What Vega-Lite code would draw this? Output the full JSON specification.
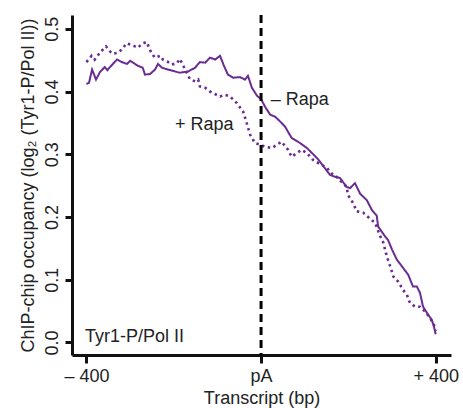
{
  "$schema": "https://vega.github.io/schema/vega-lite/v6.json",
  "width": 379,
  "height": 340,
  "autosize": "none",
  "padding": {"left": 72, "top": 15, "right": 12, "bottom": 53},
  "config": {
    "view": {"stroke": null},
    "font": "Liberation Sans",
    "axis": {"grid": false, "domainColor": "#111", "tickColor": "#111", "labelColor": "#222", "titleColor": "#222", "labelFont": "Liberation Sans", "titleFont": "Liberation Sans", "titleFontWeight": "normal"}
  },
  "datasets": {
    "curves": [
      {"x": -400, "y": 0.412, "c": "minus"},
      {"x": -394, "y": 0.414, "c": "minus"},
      {"x": -387, "y": 0.435, "c": "minus"},
      {"x": -383, "y": 0.428, "c": "minus"},
      {"x": -378, "y": 0.419, "c": "minus"},
      {"x": -369, "y": 0.431, "c": "minus"},
      {"x": -358, "y": 0.439, "c": "minus"},
      {"x": -352, "y": 0.434, "c": "minus"},
      {"x": -346, "y": 0.439, "c": "minus"},
      {"x": -330, "y": 0.451, "c": "minus"},
      {"x": -319, "y": 0.447, "c": "minus"},
      {"x": -307, "y": 0.444, "c": "minus"},
      {"x": -300, "y": 0.449, "c": "minus"},
      {"x": -293, "y": 0.446, "c": "minus"},
      {"x": -282, "y": 0.441, "c": "minus"},
      {"x": -271, "y": 0.438, "c": "minus"},
      {"x": -266, "y": 0.427, "c": "minus"},
      {"x": -254, "y": 0.428, "c": "minus"},
      {"x": -243, "y": 0.435, "c": "minus"},
      {"x": -236, "y": 0.444, "c": "minus"},
      {"x": -227, "y": 0.438, "c": "minus"},
      {"x": -213, "y": 0.435, "c": "minus"},
      {"x": -197, "y": 0.432, "c": "minus"},
      {"x": -186, "y": 0.430, "c": "minus"},
      {"x": -167, "y": 0.432, "c": "minus"},
      {"x": -151, "y": 0.438, "c": "minus"},
      {"x": -140, "y": 0.447, "c": "minus"},
      {"x": -128, "y": 0.446, "c": "minus"},
      {"x": -117, "y": 0.454, "c": "minus"},
      {"x": -105, "y": 0.451, "c": "minus"},
      {"x": -94, "y": 0.457, "c": "minus"},
      {"x": -85, "y": 0.441, "c": "minus"},
      {"x": -76, "y": 0.427, "c": "minus"},
      {"x": -64, "y": 0.422, "c": "minus"},
      {"x": -48, "y": 0.423, "c": "minus"},
      {"x": -37, "y": 0.419, "c": "minus"},
      {"x": -30, "y": 0.425, "c": "minus"},
      {"x": -21, "y": 0.406, "c": "minus"},
      {"x": -9, "y": 0.393, "c": "minus"},
      {"x": 0, "y": 0.388, "c": "minus"},
      {"x": 9, "y": 0.376, "c": "minus"},
      {"x": 21, "y": 0.363, "c": "minus"},
      {"x": 32, "y": 0.360, "c": "minus"},
      {"x": 44, "y": 0.352, "c": "minus"},
      {"x": 55, "y": 0.344, "c": "minus"},
      {"x": 70, "y": 0.326, "c": "minus"},
      {"x": 89, "y": 0.318, "c": "minus"},
      {"x": 105, "y": 0.310, "c": "minus"},
      {"x": 128, "y": 0.294, "c": "minus"},
      {"x": 135, "y": 0.288, "c": "minus"},
      {"x": 158, "y": 0.267, "c": "minus"},
      {"x": 170, "y": 0.264, "c": "minus"},
      {"x": 181, "y": 0.262, "c": "minus"},
      {"x": 196, "y": 0.248, "c": "minus"},
      {"x": 204, "y": 0.246, "c": "minus"},
      {"x": 215, "y": 0.254, "c": "minus"},
      {"x": 227, "y": 0.237, "c": "minus"},
      {"x": 242, "y": 0.227, "c": "minus"},
      {"x": 254, "y": 0.211, "c": "minus"},
      {"x": 265, "y": 0.202, "c": "minus"},
      {"x": 268, "y": 0.185, "c": "minus"},
      {"x": 284, "y": 0.169, "c": "minus"},
      {"x": 291, "y": 0.163, "c": "minus"},
      {"x": 300, "y": 0.148, "c": "minus"},
      {"x": 311, "y": 0.132, "c": "minus"},
      {"x": 323, "y": 0.121, "c": "minus"},
      {"x": 337, "y": 0.108, "c": "minus"},
      {"x": 348, "y": 0.089, "c": "minus"},
      {"x": 357, "y": 0.089, "c": "minus"},
      {"x": 364, "y": 0.079, "c": "minus"},
      {"x": 371, "y": 0.057, "c": "minus"},
      {"x": 380, "y": 0.047, "c": "minus"},
      {"x": 391, "y": 0.036, "c": "minus"},
      {"x": 396, "y": 0.025, "c": "minus"},
      {"x": 400, "y": 0.013, "c": "minus"},
      {"x": -400, "y": 0.447, "c": "plus"},
      {"x": -388, "y": 0.457, "c": "plus"},
      {"x": -381, "y": 0.451, "c": "plus"},
      {"x": -369, "y": 0.462, "c": "plus"},
      {"x": -355, "y": 0.472, "c": "plus"},
      {"x": -346, "y": 0.464, "c": "plus"},
      {"x": -339, "y": 0.460, "c": "plus"},
      {"x": -328, "y": 0.462, "c": "plus"},
      {"x": -319, "y": 0.467, "c": "plus"},
      {"x": -308, "y": 0.477, "c": "plus"},
      {"x": -296, "y": 0.474, "c": "plus"},
      {"x": -289, "y": 0.472, "c": "plus"},
      {"x": -282, "y": 0.470, "c": "plus"},
      {"x": -273, "y": 0.476, "c": "plus"},
      {"x": -262, "y": 0.479, "c": "plus"},
      {"x": -251, "y": 0.461, "c": "plus"},
      {"x": -243, "y": 0.454, "c": "plus"},
      {"x": -231, "y": 0.457, "c": "plus"},
      {"x": -225, "y": 0.451, "c": "plus"},
      {"x": -215, "y": 0.448, "c": "plus"},
      {"x": -205, "y": 0.443, "c": "plus"},
      {"x": -193, "y": 0.445, "c": "plus"},
      {"x": -186, "y": 0.452, "c": "plus"},
      {"x": -163, "y": 0.420, "c": "plus"},
      {"x": -151, "y": 0.416, "c": "plus"},
      {"x": -144, "y": 0.419, "c": "plus"},
      {"x": -140, "y": 0.408, "c": "plus"},
      {"x": -128, "y": 0.406, "c": "plus"},
      {"x": -117, "y": 0.400, "c": "plus"},
      {"x": -94, "y": 0.392, "c": "plus"},
      {"x": -83, "y": 0.395, "c": "plus"},
      {"x": -71, "y": 0.392, "c": "plus"},
      {"x": -56, "y": 0.382, "c": "plus"},
      {"x": -41, "y": 0.368, "c": "plus"},
      {"x": -33, "y": 0.350, "c": "plus"},
      {"x": -25, "y": 0.331, "c": "plus"},
      {"x": -14, "y": 0.318, "c": "plus"},
      {"x": -2, "y": 0.315, "c": "plus"},
      {"x": 9, "y": 0.312, "c": "plus"},
      {"x": 25, "y": 0.310, "c": "plus"},
      {"x": 36, "y": 0.315, "c": "plus"},
      {"x": 47, "y": 0.320, "c": "plus"},
      {"x": 62, "y": 0.307, "c": "plus"},
      {"x": 70, "y": 0.296, "c": "plus"},
      {"x": 82, "y": 0.302, "c": "plus"},
      {"x": 93, "y": 0.307, "c": "plus"},
      {"x": 105, "y": 0.302, "c": "plus"},
      {"x": 119, "y": 0.291, "c": "plus"},
      {"x": 131, "y": 0.286, "c": "plus"},
      {"x": 151, "y": 0.278, "c": "plus"},
      {"x": 165, "y": 0.267, "c": "plus"},
      {"x": 173, "y": 0.264, "c": "plus"},
      {"x": 196, "y": 0.248, "c": "plus"},
      {"x": 199, "y": 0.235, "c": "plus"},
      {"x": 211, "y": 0.222, "c": "plus"},
      {"x": 219, "y": 0.209, "c": "plus"},
      {"x": 234, "y": 0.207, "c": "plus"},
      {"x": 250, "y": 0.197, "c": "plus"},
      {"x": 261, "y": 0.191, "c": "plus"},
      {"x": 273, "y": 0.169, "c": "plus"},
      {"x": 280, "y": 0.159, "c": "plus"},
      {"x": 288, "y": 0.137, "c": "plus"},
      {"x": 296, "y": 0.121, "c": "plus"},
      {"x": 303, "y": 0.105, "c": "plus"},
      {"x": 314, "y": 0.097, "c": "plus"},
      {"x": 325, "y": 0.084, "c": "plus"},
      {"x": 334, "y": 0.076, "c": "plus"},
      {"x": 341, "y": 0.063, "c": "plus"},
      {"x": 353, "y": 0.057, "c": "plus"},
      {"x": 364, "y": 0.057, "c": "plus"},
      {"x": 376, "y": 0.049, "c": "plus"},
      {"x": 387, "y": 0.039, "c": "plus"},
      {"x": 396, "y": 0.028, "c": "plus"},
      {"x": 400, "y": 0.018, "c": "plus"}
    ],
    "labels": [
      {"x": 22, "y": 0.378, "t": "– Rapa"},
      {"x": -197, "y": 0.339, "t": "+ Rapa"},
      {"x": -403, "y": 0.0, "t": "Tyr1-P/Pol II"}
    ],
    "marker": [
      {"x": 0}
    ]
  },
  "layer": [
    {
      "data": {"name": "curves"},
      "mark": {"type": "line", "color": "#6a2c91", "interpolate": "linear"},
      "encoding": {
        "x": {
          "field": "x",
          "type": "quantitative",
          "scale": {"domain": [-433, 435], "nice": false, "zero": false},
          "axis": {
            "title": "Transcript (bp)",
            "values": [-400, 0, 400],
            "labelExpr": "datum.value == -400 ? '– 400' : datum.value == 0 ? 'pA' : '+ 400'",
            "labelFontSize": 18,
            "titleFontSize": 18,
            "domainWidth": 3,
            "tickWidth": 3,
            "tickSize": 8,
            "labelPadding": 4,
            "titlePadding": 4,
            "labelFlush": false,
            "labelOverlap": false
          }
        },
        "y": {
          "field": "y",
          "type": "quantitative",
          "scale": {"domain": [-0.02, 0.522], "nice": false, "zero": false},
          "axis": {
            "title": "ChIP-chip occupancy (log₂ (Tyr1-P/Pol II))",
            "values": [0, 0.1, 0.2, 0.3, 0.4, 0.5],
            "format": ".1f",
            "labelAngle": -90,
            "labelAlign": "center",
            "labelBaseline": "bottom",
            "labelFontSize": 18,
            "titleFontSize": 18,
            "domainWidth": 3,
            "tickWidth": 3,
            "tickSize": 7,
            "labelPadding": 4,
            "titlePadding": 6,
            "labelFlush": false,
            "labelOverlap": false
          }
        },
        "detail": {"field": "c"},
        "strokeDash": {
          "field": "c",
          "type": "nominal",
          "scale": {"domain": ["minus", "plus"], "range": [[1, 0], [2.5, 3.5]]},
          "legend": null
        },
        "strokeWidth": {
          "field": "c",
          "type": "nominal",
          "scale": {"domain": ["minus", "plus"], "range": [2, 2.6]},
          "legend": null
        }
      }
    },
    {
      "data": {"name": "marker"},
      "mark": {"type": "rule", "color": "#000", "strokeWidth": 3, "strokeDash": [8, 5]},
      "encoding": {
        "x": {"field": "x", "type": "quantitative"}
      }
    },
    {
      "data": {"name": "labels"},
      "mark": {"type": "text", "align": "left", "baseline": "alphabetic", "fontSize": 18, "color": "#222", "font": "Liberation Sans"},
      "encoding": {
        "x": {"field": "x", "type": "quantitative"},
        "y": {"field": "y", "type": "quantitative"},
        "text": {"field": "t"}
      }
    }
  ]
}
